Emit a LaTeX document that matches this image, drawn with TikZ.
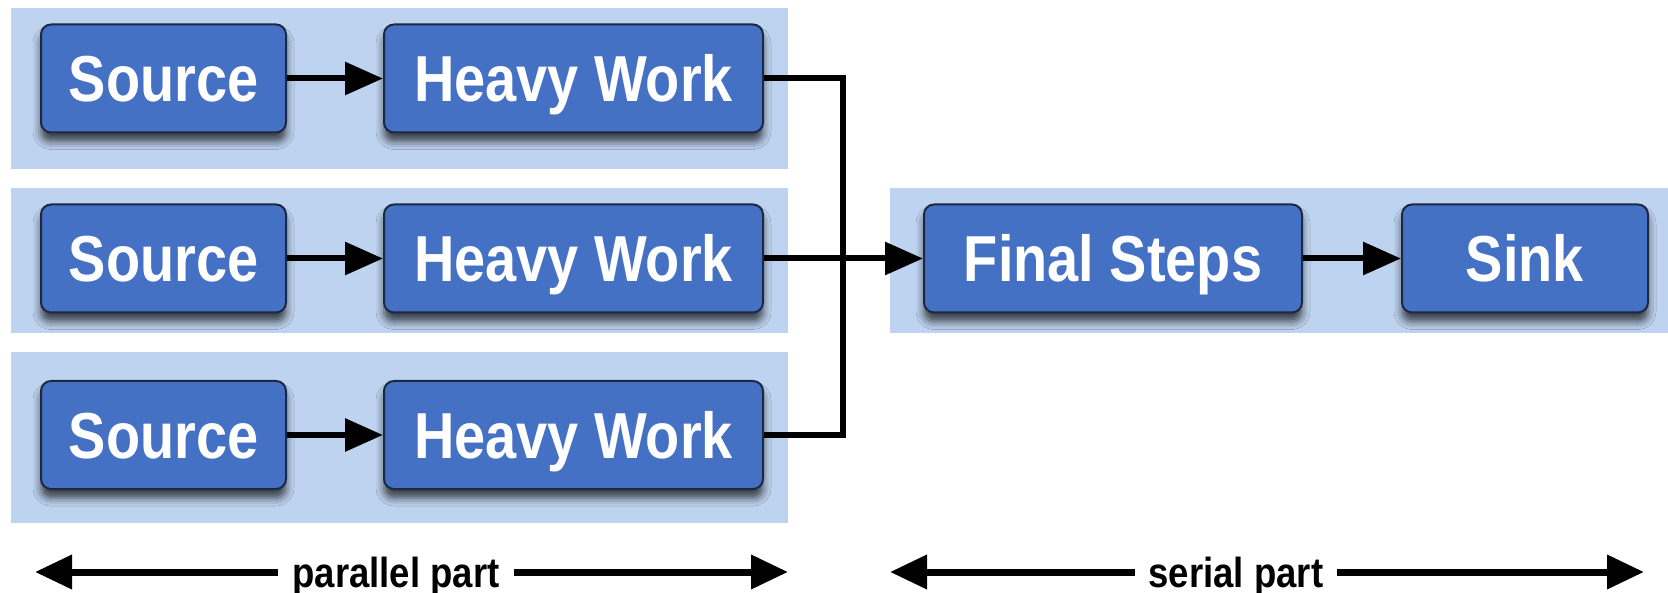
\documentclass[tikz,border=0pt]{standalone}
\usepackage{fontspec}
\usetikzlibrary{arrows.meta,shadows.blur}
\newfontfamily\boxfont{Liberation Sans}[FakeStretch=0.86]
\newfontfamily\partfont{Liberation Sans}[FakeStretch=0.87]
\definecolor{bandblue}{HTML}{BED3EF}
\definecolor{boxblue}{HTML}{4571C4}
\definecolor{boxedge}{HTML}{1C2840}
\tikzset{
  band/.style={fill=bandblue, draw=none},
  stage/.style={rounded corners=10pt, fill=boxblue, draw=boxedge, line width=2pt,
    minimum height=108pt, text=white,
    font=\boxfont\bfseries\fontsize{65}{70}\selectfont,
    text height=47pt, text depth=0pt, inner sep=0pt,
    blur shadow={shadow xshift=0pt, shadow yshift=-9pt, shadow blur radius=8pt, shadow opacity=70}},
  narrow/.style={stage, minimum width=245pt},
  wide/.style={stage, minimum width=379pt},
  flow/.style={line width=6pt, -{Triangle[length=38pt,width=32pt]}},
  bus/.style={line width=6pt, line join=miter},
  span/.style={line width=7pt, {Triangle[length=37pt,width=33pt]}-{Triangle[length=37pt,width=33pt]}},
  partlabel/.style={fill=white, inner xsep=14pt, inner ysep=4pt, anchor=base,
    font=\partfont\bfseries\fontsize{42}{46}\selectfont}
}
\begin{document}
\begin{tikzpicture}[x=1pt, y=-1pt]
\useasboundingbox (0,0) rectangle (1668,593);
% background bands
\fill[band] (11,8) rectangle (788,169);
\fill[band] (11,188) rectangle (788,333);
\fill[band] (11,352) rectangle (788,523);
\fill[band] (890,188) rectangle (1668,333);
% parallel pipelines
\node[narrow] (src1) at (163.5,78.5) {Source};
\node[wide]   (hw1)  at (573.5,78.5) {Heavy Work};
\node[narrow] (src2) at (163.5,258.5) {Source};
\node[wide]   (hw2)  at (573.5,258.5) {Heavy Work};
\node[narrow] (src3) at (163.5,435) {Source};
\node[wide]   (hw3)  at (573.5,435) {Heavy Work};
% serial part
\node[wide, minimum width=378pt] (fs) at (1113,258.5) {Final Steps};
\node[narrow, minimum width=246pt] (sink) at (1525,258.5) {Sink};
% connectors
\draw[flow] (src1) -- (hw1);
\draw[flow] (src2) -- (hw2);
\draw[flow] (src3) -- (hw3);
\coordinate (merge) at (843,258.5);
\draw[bus] (hw1.east) -| (merge) |- (hw3.east);
\draw[flow] (hw2.east) -- (fs.west);
\draw[flow] (fs) -- (sink);
% extent markers
\coordinate (pl) at (35,572);
\coordinate (pr) at (788,572);
\coordinate (sl) at (890,572);
\coordinate (sr) at (1644,572);
\draw[span] (pl) -- (pr);
\draw[span] (sl) -- (sr);
\node[partlabel] (plab) at (396,587) {parallel part};
\node[partlabel] (slab) at (1236,587) {serial part};
\end{tikzpicture}
\end{document}
